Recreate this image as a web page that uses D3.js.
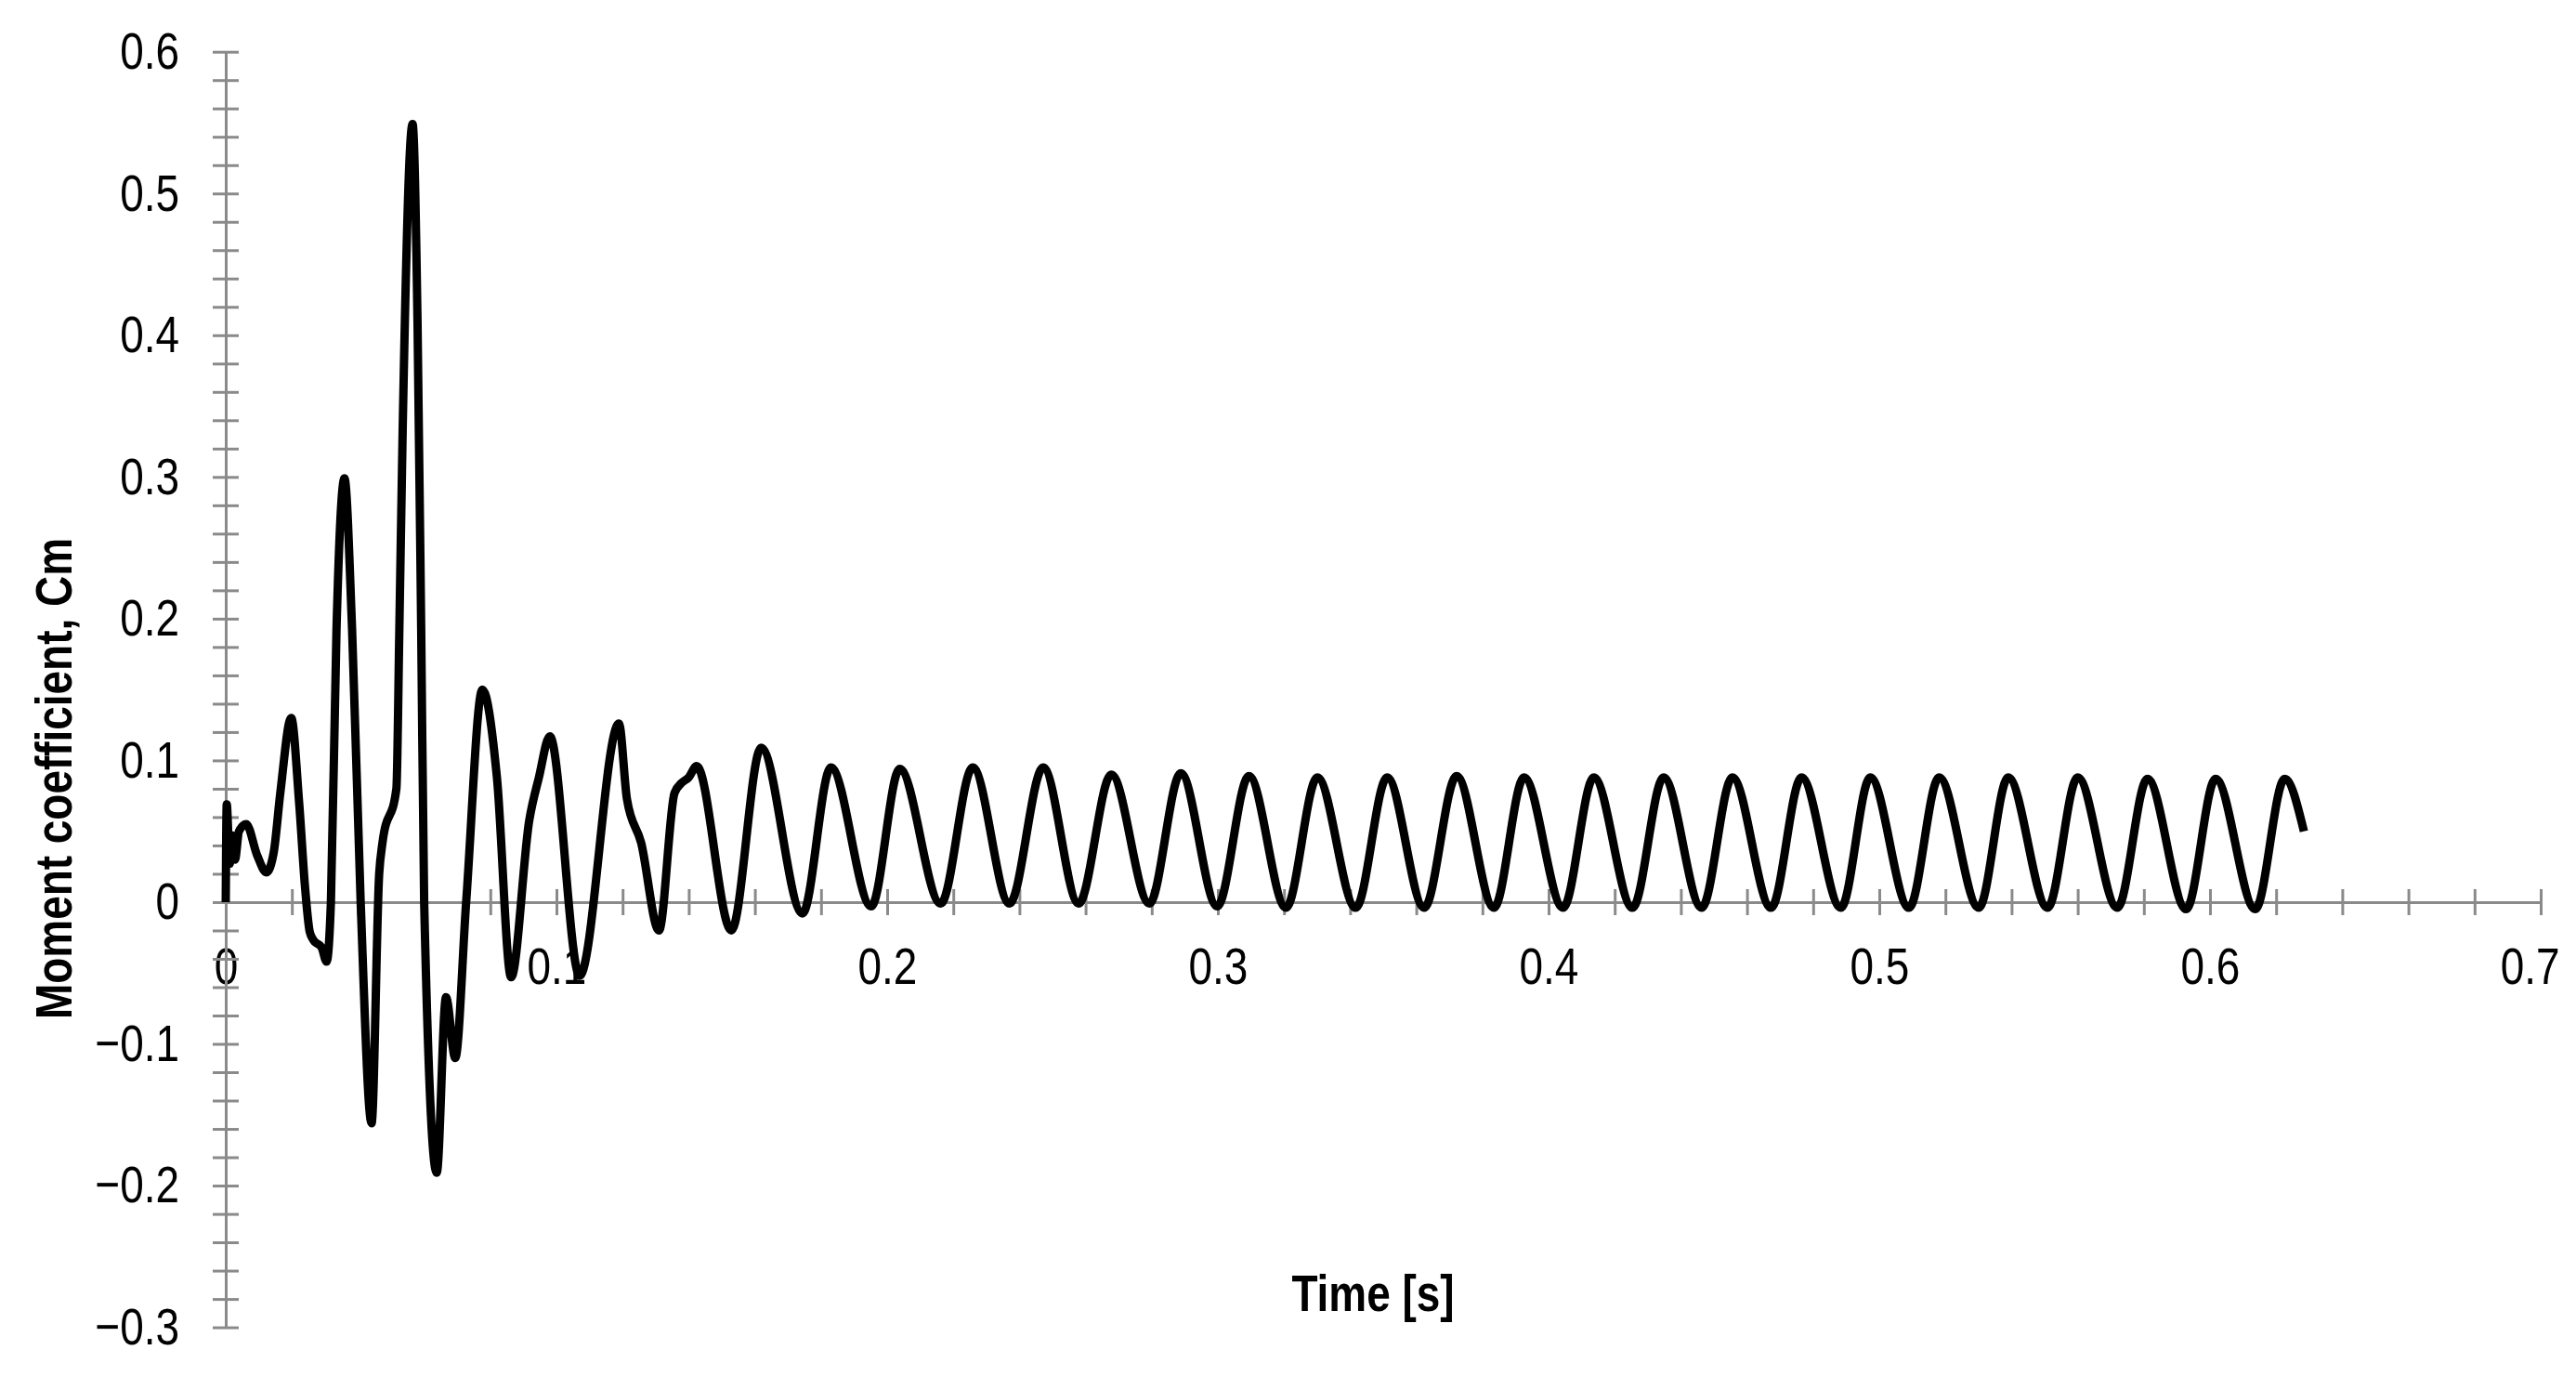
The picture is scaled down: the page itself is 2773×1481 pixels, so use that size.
<!DOCTYPE html>
<html>
<head>
<meta charset="utf-8">
<title>Moment coefficient - time history</title>
<script src="https://d3js.org/d3.v7.min.js"></script>
<style>
    body { margin: 0; background: #fff; }
    .axis text { font-family: 'Liberation Sans Narrow', 'Arial Narrow', sans-serif; font-size: 56px; fill: #000; }
    .title { font-family: 'Liberation Sans Narrow', 'Arial Narrow', sans-serif; font-size: 56px; font-weight: bold; fill: #000; }
</style>
</head>
<body>
<div id="chart"></div>
<script>
// values
const time = [
    0.0000, 0.0003, 0.0012, 0.0020, 0.0028, 0.0040, 0.0062, 0.0095, 0.0123, 0.0145,
    0.0165, 0.0198, 0.0222, 0.0240, 0.0254, 0.0266, 0.0290, 0.0305, 0.0318, 0.0335,
    0.0359, 0.0382, 0.0408, 0.0441, 0.0464, 0.0474, 0.0516, 0.0525, 0.0535, 0.0565,
    0.0580, 0.0591, 0.0600, 0.0638, 0.0666, 0.0694, 0.0727, 0.0776, 0.0820, 0.0863,
    0.0918, 0.0947, 0.0980, 0.1070, 0.1189, 0.1213, 0.1256, 0.1310, 0.1357, 0.1378,
    0.1400, 0.1424, 0.1529, 0.1619, 0.1744, 0.1830, 0.1952, 0.2038, 0.2162, 0.2259,
    0.2370, 0.2472, 0.2579, 0.2678, 0.2793, 0.2888, 0.2998, 0.3094, 0.3206, 0.3301,
    0.3417, 0.3512, 0.3624, 0.3722, 0.3835, 0.3926, 0.4044, 0.4137, 0.4254, 0.4348,
    0.4463, 0.4556, 0.4673, 0.4765, 0.4884, 0.4973, 0.5090, 0.5181, 0.5301, 0.5390,
    0.5509, 0.5600, 0.5720, 0.5811, 0.5928, 0.6017, 0.6137, 0.6226, 0.6284
];
const cm = [
    0.000, 0.069, 0.027, 0.047, 0.030, 0.050, 0.055, 0.033, 0.021, 0.035,
    0.077, 0.130, 0.070, 0.010, -0.021, -0.027, -0.032, -0.042, 0.000, 0.193,
    0.299, 0.193, 0.000, -0.156, 0.020, 0.042, 0.080, 0.193, 0.333, 0.549,
    0.408, 0.193, 0.000, -0.191, -0.067, -0.110, 0.000, 0.150, 0.088, -0.053,
    0.058, 0.088, 0.117, -0.052, 0.126, 0.073, 0.042, -0.020, 0.077, 0.084,
    0.088, 0.096, -0.020, 0.109, -0.008, 0.095, -0.003, 0.094, -0.001, 0.095,
    -0.001, 0.095, -0.001, 0.090, -0.001, 0.091, -0.003, 0.089, -0.004, 0.088,
    -0.004, 0.088, -0.004, 0.089, -0.004, 0.088, -0.004, 0.088, -0.004, 0.088,
    -0.004, 0.088, -0.004, 0.088, -0.004, 0.088, -0.004, 0.088, -0.004, 0.088,
    -0.004, 0.088, -0.004, 0.087, -0.005, 0.087, -0.005, 0.087, 0.050
];
const xLabels = [0, 0.1, 0.2, 0.3, 0.4, 0.5, 0.6, 0.7];
const yLabels = [-0.3, -0.2, -0.1, 0, 0.1, 0.2, 0.3, 0.4, 0.5, 0.6];
const minorStep = 0.02;

let W = 2773, H = 1481;
let svg = d3.select("#chart")
    .append("svg")
        .attr("width", W)
        .attr("height", H)
        .style("display", "block");

let xScale = d3.scaleLinear().domain([0, 0.7]).range([243, 2735]);
let yScale = d3.scaleLinear().domain([-0.3, 0.6]).range([1428.6, 55.7]);

function fmt(d) {
    if (Math.abs(d) < 1e-9) return "0";
    return (d < 0 ? "\u2212" : "") + Math.abs(d).toFixed(1);
}
function isLabel(list, d) {
    return list.some(v => Math.abs(v - d) < 1e-9);
}

let xTicks = d3.range(0, 36).map(i => +(i * minorStep).toFixed(2));
let yTicks = d3.range(0, 46).map(i => +(-0.3 + i * minorStep).toFixed(2));

let xAxis = d3.axisBottom(xScale)
    .tickValues(xTicks)
    .tickSizeInner(14)
    .tickSizeOuter(0)
    .tickFormat(d => isLabel(xLabels, d) ? fmt(d) : "");

let yAxis = d3.axisLeft(yScale)
    .tickValues(yTicks)
    .tickSizeInner(14)
    .tickSizeOuter(0)
    .tickFormat(d => isLabel(yLabels, d) ? fmt(d) : "");

let gx = svg.append("g")
    .attr("class", "axis")
    .attr("transform", "translate(0," + yScale(0) + ")")
    .call(xAxis);
gx.selectAll("line").attr("y1", -14);
gx.selectAll("text").attr("y", 48);
// keep the last label inside the page
gx.selectAll("text").filter(d => Math.abs(d - 0.7) < 1e-9)
    .style("text-anchor", "end")
    .attr("x", 20);

let gy = svg.append("g")
    .attr("class", "axis")
    .attr("transform", "translate(" + xScale(0) + ",0)")
    .call(yAxis);
gy.selectAll("line").attr("x1", 14);
gy.selectAll("text").attr("x", -50);

svg.selectAll(".axis path, .axis line")
    .attr("stroke", "#8a8a8a")
    .attr("stroke-width", 3);

// the curve
let line = d3.line()
    .x((d, i) => xScale(time[i]))
    .y((d, i) => yScale(cm[i]))
    .curve(d3.curveMonotoneX);

svg.append("path")
    .attr("d", line(time))
    .attr("fill", "none")
    .attr("stroke", "#000")
    .attr("stroke-width", 9)
    .attr("stroke-linejoin", "round")
    .attr("stroke-linecap", "butt");

svg.append("text")
    .attr("class", "title")
    .attr("x", 1478)
    .attr("y", 1411)
    .style("text-anchor", "middle")
    .text("Time [s]");

svg.append("text")
    .attr("class", "title")
    .attr("transform", "rotate(-90)")
    .attr("x", -838)
    .attr("y", 77)
    .style("text-anchor", "middle")
    .text("Moment coefficient, Cm");

// if the narrow face is missing, squeeze the regular one
let probe = svg.append("text").attr("class", "title").style("font-weight", "normal").text("0.6");
let probeW = probe.node().getComputedTextLength();
probe.remove();
if (probeW > 70) {
    svg.selectAll("text").each(function () {
        this.style.fontFamily = "'Liberation Sans', Arial, sans-serif";
        let w = this.getComputedTextLength();
        if (w > 0) {
            this.setAttribute("textLength", w * 0.82);
            this.setAttribute("lengthAdjust", "spacingAndGlyphs");
        }
    });
}
</script>
</body>
</html>
